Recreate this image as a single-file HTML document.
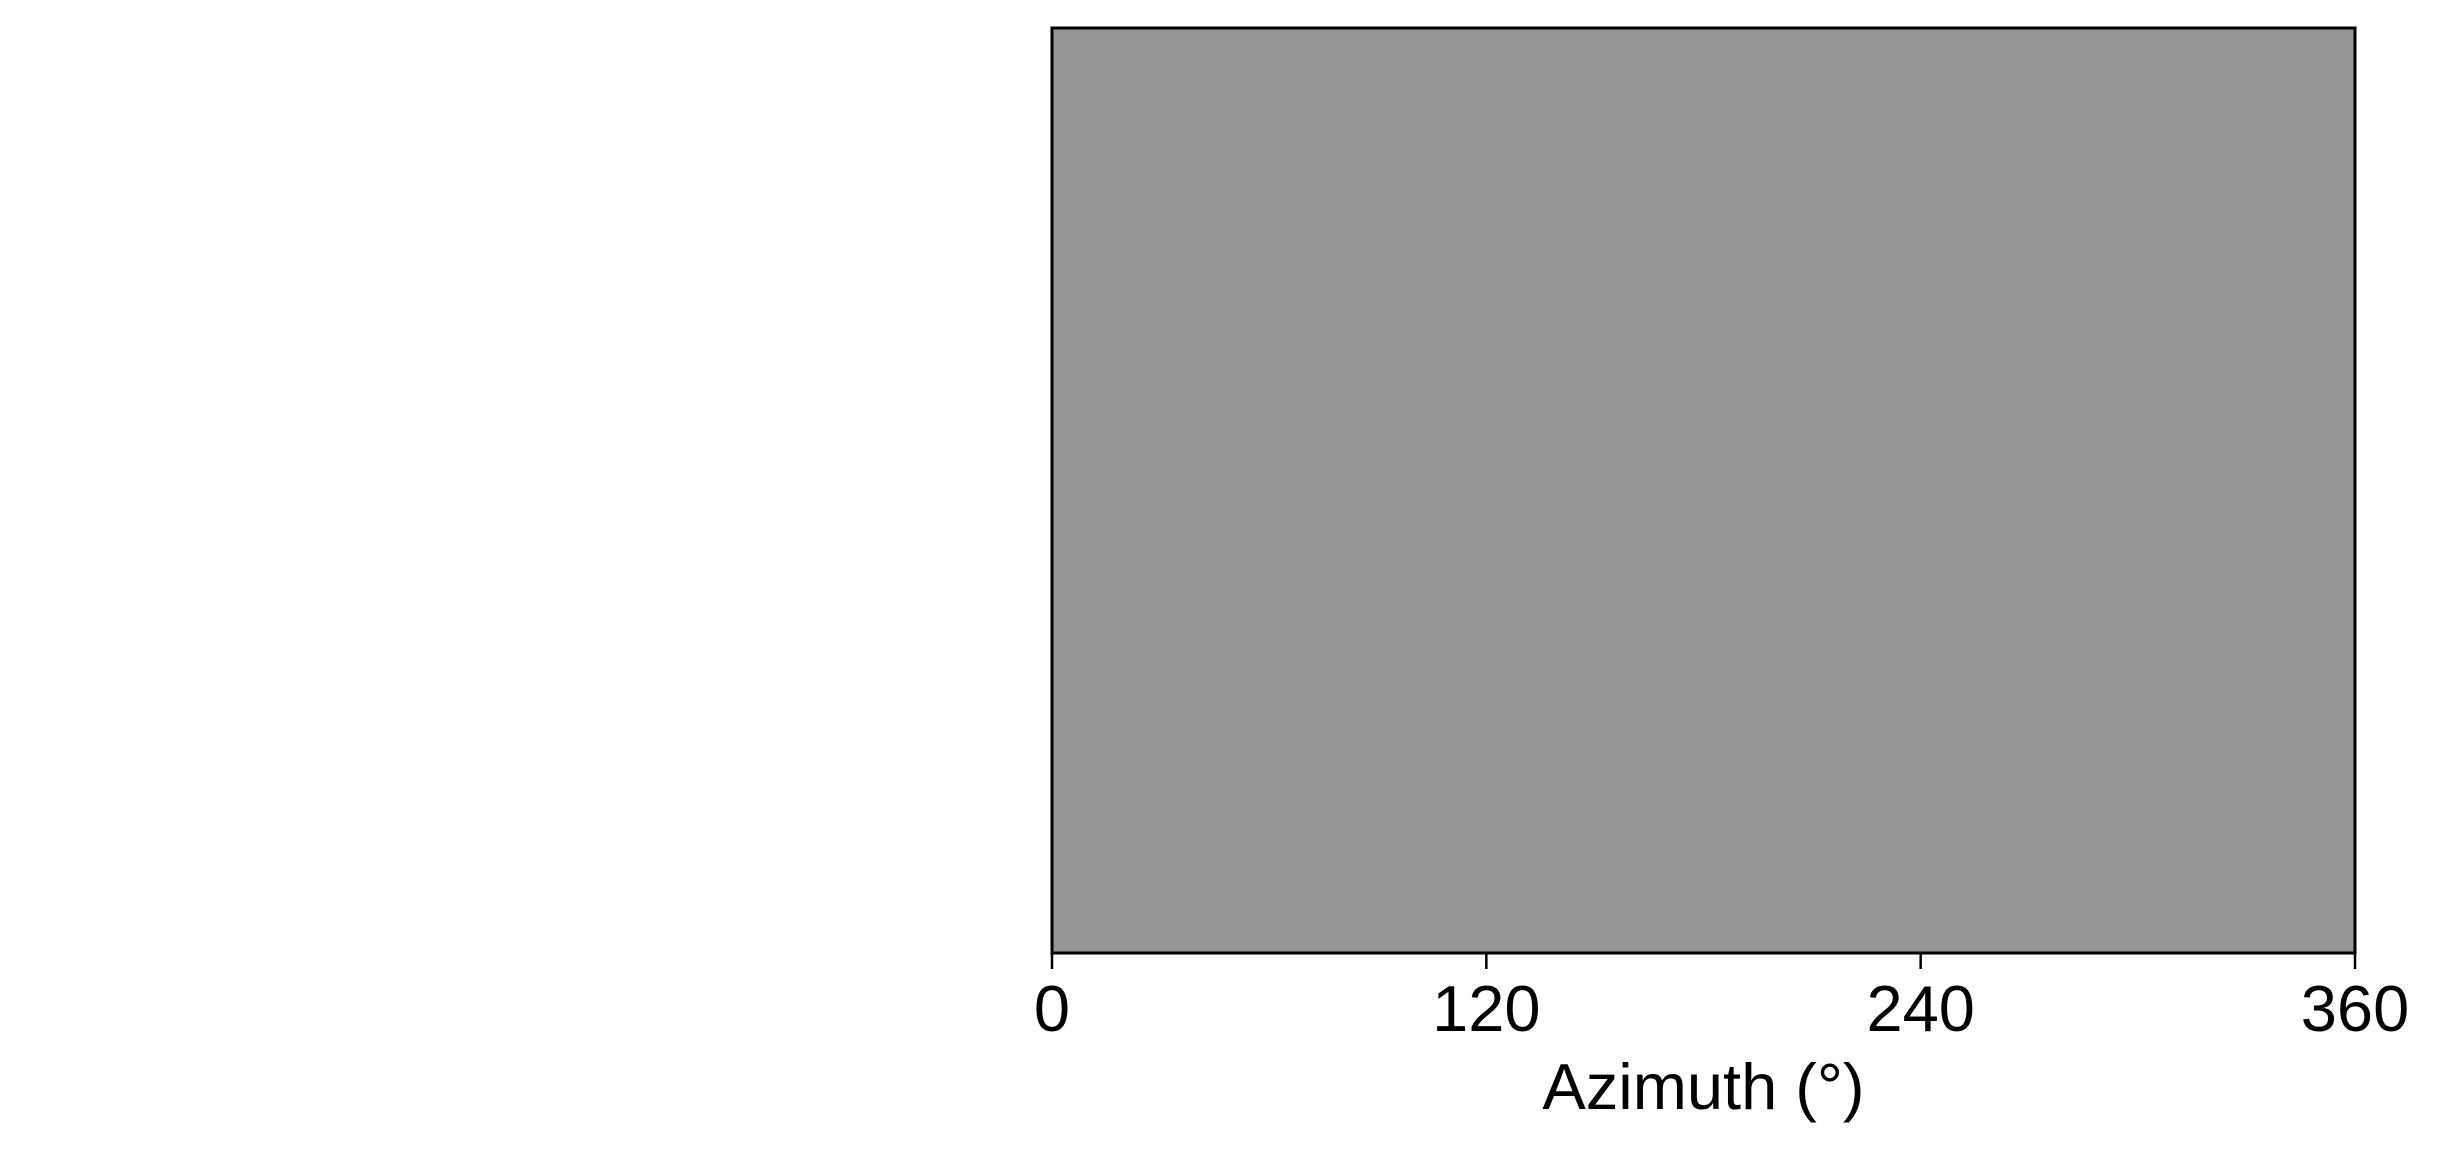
<!DOCTYPE html>
<html><head><meta charset="utf-8"><style>
body{margin:0;background:#fff;width:2440px;height:1151px;overflow:hidden}
svg text{font-family:"Liberation Sans",Arial,sans-serif;font-size:65px;fill:#000}
</style></head><body>
<svg width="2440" height="1151">
<g id="plot"></g>
</svg>
<script>
const tickValues=[0,120,240,360];
const tickLabels=["0","120","240","360"];
const xDomain=[0,360];
const L=1052,R=2355,T=28,B=953;
const x=v=>L+(v-xDomain[0])/(xDomain[1]-xDomain[0])*(R-L);
const ns="http://www.w3.org/2000/svg";
const g=document.getElementById('plot');
function mk(t,a){const e=document.createElementNS(ns,t);for(const k in a)e.setAttribute(k,a[k]);g.appendChild(e);return e;}
const bg=mk('rect',{x:x(0),y:T,width:x(360)-x(0),height:B-T,fill:'#969696',stroke:'#000','stroke-width':3});


tickValues.forEach((v,i)=>{
 const l=mk('line',{x1:x(v),x2:x(v),y1:B,y2:B+16,stroke:'#000','stroke-width':2.5});
 
 
 const t=mk('text',{x:x(v),y:1031,'text-anchor':'middle'});
 t.textContent=tickLabels[i];
 
 
});
const title=mk('text',{x:(L+R)/2,y:1109,'text-anchor':'middle'});
title.textContent='Azimuth (°)';


</script>
</body></html>
